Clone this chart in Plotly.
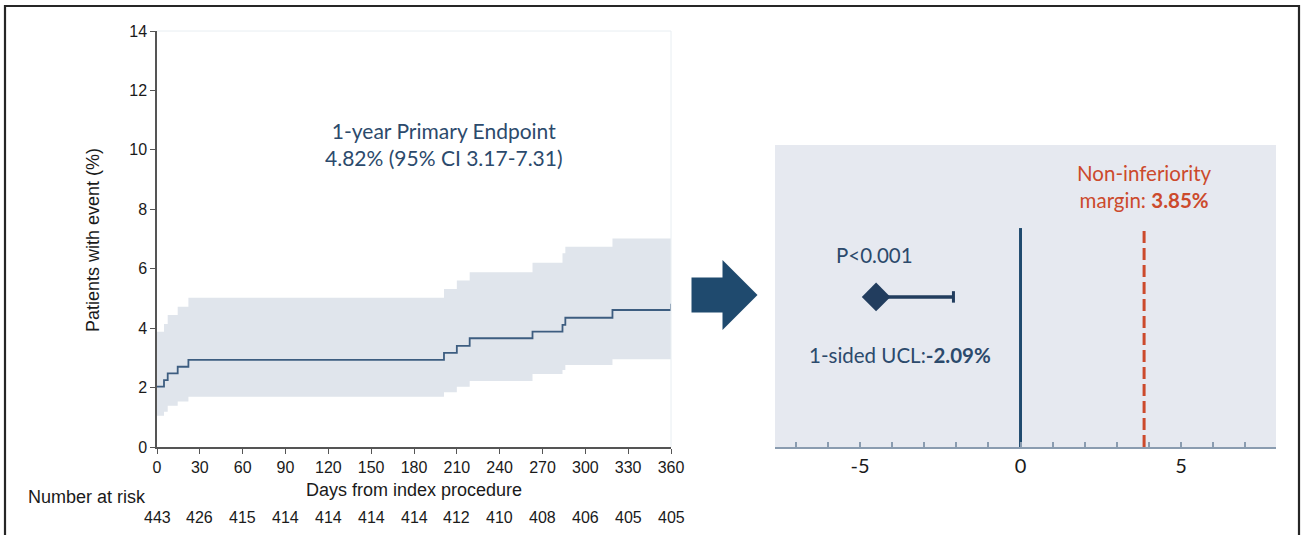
import plotly.graph_objects as go

# Kaplan-Meier estimate of the primary endpoint (cumulative %, step function)
days = [0, 4.9, 7.5, 14.5, 22, 201, 210, 219, 263, 284, 286, 319, 360]
km_pct = [2.03, 2.25, 2.48, 2.70, 2.93, 3.17, 3.40, 3.66, 3.88, 4.11, 4.35, 4.61, 4.82]
ci_upper = [3.88, 4.14, 4.44, 4.72, 5.02, 5.32, 5.60, 5.88, 6.20, 6.52, 6.74, 7.02, 7.31]
ci_lower = [1.05, 1.19, 1.39, 1.53, 1.69, 1.84, 2.03, 2.22, 2.46, 2.59, 2.76, 2.95, 3.17]

# Number at risk under each x tick
risk_days = [0, 30, 60, 90, 120, 150, 180, 210, 240, 270, 300, 330, 360]
at_risk = [443, 426, 415, 414, 414, 414, 414, 412, 410, 408, 406, 405, 405]

# Non-inferiority test
point_diff = -4.5
ucl = -2.09
ni_margin = 3.85
p_text = "P<0.001"
diff_ticks = [-5, 0, 5]
diff_ticktext = ["-5", "0", "5"]

W, H = 1301, 535
NAVY = "#1f4a6e"
CURVE = "#3d5d80"
BAND = "rgba(224,229,236,1)"
PANEL = "#e6e9f0"
RED = "#cc4a2c"
TEXT_BLUE = "#2c4a6c"
SANS = "Liberation Sans, Arial"


def px(x):
    return x / W


def py(y):
    return (H - y) / H


fig = go.Figure()

# Confidence band
fig.add_trace(go.Scatter(x=days, y=ci_lower, mode="lines", line=dict(width=0, shape="hv"),
                         hoverinfo="skip", showlegend=False, xaxis="x", yaxis="y"))
fig.add_trace(go.Scatter(x=days, y=ci_upper, mode="lines", line=dict(width=0, shape="hv"),
                         fill="tonexty", fillcolor=BAND, hoverinfo="skip",
                         showlegend=False, xaxis="x", yaxis="y"))
# KM curve
fig.add_trace(go.Scatter(x=days, y=km_pct, mode="lines",
                         line=dict(color=CURVE, width=1.8, shape="hv"),
                         showlegend=False, xaxis="x", yaxis="y"))

# Right panel: reference line at 0 and the margin
fig.add_trace(go.Scatter(x=[0, 0], y=[0, 0.725], mode="lines",
                         line=dict(color=NAVY, width=3), showlegend=False,
                         xaxis="x2", yaxis="y2"))
fig.add_trace(go.Scatter(x=[ni_margin, ni_margin], y=[0, 0.725], mode="lines",
                         line=dict(color=RED, width=3, dash="12px,5px"), showlegend=False,
                         xaxis="x2", yaxis="y2"))
# Estimate with one-sided upper bound
fig.add_trace(go.Scatter(x=[point_diff, ucl], y=[0.497, 0.497], mode="lines",
                         line=dict(color="#223d5e", width=3.5), showlegend=False,
                         xaxis="x2", yaxis="y2"))
fig.add_trace(go.Scatter(x=[ucl, ucl], y=[0.478, 0.516], mode="lines",
                         line=dict(color="#223d5e", width=3), showlegend=False,
                         xaxis="x2", yaxis="y2"))
fig.add_trace(go.Scatter(x=[point_diff], y=[0.497], mode="markers",
                         marker=dict(symbol="diamond", size=22, color="#223d5e"),
                         showlegend=False, xaxis="x2", yaxis="y2"))

tickfont = dict(family=SANS, size=16, color="#1a1a1a")

fig.update_layout(
    width=W, height=H,
    margin=dict(l=0, r=0, t=0, b=0, autoexpand=False),
    paper_bgcolor="white", plot_bgcolor="rgba(0,0,0,0)",
    xaxis=dict(domain=[px(157), px(671)], range=[0, 360], tickvals=risk_days,
               ticks="outside", ticklen=5, tickwidth=1.2, tickcolor="#555",
               showline=True, linecolor="#555", linewidth=1.5, mirror=False,
               showgrid=False, zeroline=False, tickfont=tickfont, anchor="y",
               automargin=False),
    yaxis=dict(domain=[py(447), py(31)], range=[0, 14], tickvals=list(range(0, 15, 2)),
               ticks="outside", ticklen=5, tickwidth=1.2, tickcolor="#555",
               showline=True, linecolor="#555", linewidth=1.5,
               showgrid=False, zeroline=False, tickfont=tickfont, anchor="x",
               automargin=False),
    xaxis2=dict(domain=[px(775), px(1276)], range=[-7.65, 7.96],
                tickvals=diff_ticks, ticktext=diff_ticktext, ticks="", showline=True,
                linecolor="#8a9cb0", linewidth=2, showgrid=False, zeroline=False,
                tickfont=dict(family="Lato", size=20, color="#1a1a1a"),
                minor=dict(tickvals=list(range(-7, 8)), ticks="inside", ticklen=5,
                           tickcolor="#8a9cb0", tickwidth=1.5),
                anchor="y2", automargin=False),
    yaxis2=dict(domain=[py(447), py(145)], range=[0, 1], visible=False, anchor="x2",
                automargin=False),
)

shapes = [
    # light outline on the open sides of the KM plot area
    dict(type="line", xref="paper", yref="paper", x0=px(157), x1=px(671),
         y0=py(31), y1=py(31), line=dict(color="#e8eef2", width=1)),
    dict(type="line", xref="paper", yref="paper", x0=px(671), x1=px(671),
         y0=py(31), y1=py(447), line=dict(color="#e8eef2", width=1)),
    # right panel background
    dict(type="rect", xref="paper", yref="paper", x0=px(775), x1=px(1276),
         y0=py(447), y1=py(145), fillcolor=PANEL, line=dict(width=0), layer="below"),
    # arrow between the panels
    dict(type="path", xref="paper", yref="paper",
         path=(f"M {px(691.5)},{py(277.5)} L {px(722.5)},{py(277.5)} "
               f"L {px(722.5)},{py(260)} L {px(757.5)},{py(295)} "
               f"L {px(722.5)},{py(330)} L {px(722.5)},{py(312.5)} "
               f"L {px(691.5)},{py(312.5)} Z"),
         fillcolor=NAVY, line=dict(width=0)),
    # outer frame
    dict(type="rect", xref="paper", yref="paper", x0=px(5), x1=px(1299),
         y0=-0.05, y1=py(6), line=dict(color="#262626", width=2.2)),
]
fig.update_layout(shapes=shapes)


def label(text, x, y, size, color="#1a1a1a", family=SANS, xref="paper", yref="paper",
          **kw):
    return dict(xref=xref, yref=yref, x=x, y=y, text=text, showarrow=False,
                xanchor="center", yanchor="middle",
                font=dict(family=family, size=size, color=color), **kw)


ann = [
    label("Patients with event (%)", px(93), py(240), 18, textangle=-90),
    label("Days from index procedure", px(414), py(490), 18),
    label("Number at risk", px(87), py(497), 18),
]
for d, n in zip(risk_days, at_risk):
    ann.append(label(str(n), d, py(517), 16, xref="x"))

ann.append(label(f"1-year Primary Endpoint<br>{km_pct[-1]:.2f}% "
                 f"(95% CI {ci_lower[-1]:.2f}-{ci_upper[-1]:.2f})",
                 201, 10.2, 21, color=TEXT_BLUE, family="Lato", xref="x", yref="y"))
ann.append(label(p_text, -4.56, 0.636, 20.5, color=TEXT_BLUE, family="Lato",
                 xref="x2", yref="y2"))
ann.append(label(f"1-sided UCL:<b>{ucl:.2f}%</b>", -3.75, 0.305, 20.5,
                 color=TEXT_BLUE, family="Lato", xref="x2", yref="y2"))
ann.append(label(f"Non-inferiority<br>margin: <b>{ni_margin:.2f}%</b>", ni_margin, 0.861,
                 20.5, color=RED, family="Lato", xref="x2", yref="y2"))
fig.update_layout(annotations=ann)

fig.write_html(
    "out.html",
    post_script="document.body.style.margin='0';document.body.style.overflow='hidden';",
)
